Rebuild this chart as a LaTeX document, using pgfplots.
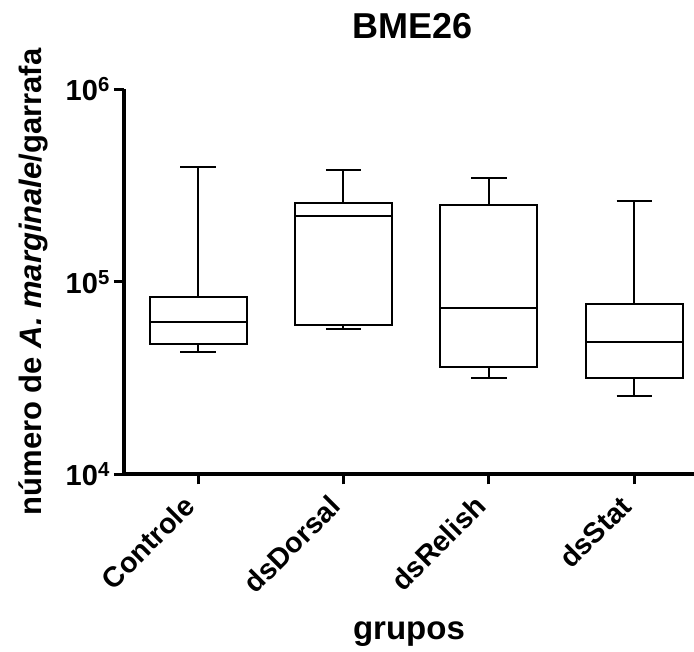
\documentclass[border=0pt]{standalone}
\usepackage{pgfplots}
\pgfplotsset{compat=1.18}
\usepgfplotslibrary{statistics}
\usetikzlibrary{calc}
\usepackage{fontspec}
\setmainfont{Liberation Sans}

\begin{document}
\begin{tikzpicture}
\begin{axis}[
    scale only axis,
    width=570pt, height=385pt,
    ymode=log,
    ymin=1e4, ymax=1e6,
    xmin=0.491, xmax=4.41,
    axis x line*=bottom,
    axis y line*=left,
    axis line style={-, line width=4pt},
    xtick={1,2,3,4},
    xticklabels={Controle,dsDorsal,dsRelish,dsStat},
    ytick={1e4,1e5,1e6},
    yticklabels={10\textsuperscript{4},10\textsuperscript{5},10\textsuperscript{6}},
    minor tick length=0pt,
    minor tick style={draw=none},
    tick align=outside,
    major tick length=10pt,
    major tick style={line width=3pt, black},
    yticklabel style={font=\fontsize{29}{34}\selectfont\bfseries, inner sep=0pt, xshift=-4pt},
    xticklabel style={font=\fontsize{28.5}{34}\selectfont\bfseries, xshift=-16pt, yshift=-9pt, rotate=45, anchor=north east, inner sep=0pt},
    title={BME26},
    title style={font=\fontsize{36}{40}\selectfont\bfseries, at={(axis description cs:0.5,1)}, anchor=base, yshift=44.5pt, xshift=4pt},
    xlabel={grupos},
    xlabel style={font=\fontsize{33}{38}\selectfont\bfseries, at={(axis description cs:0.5,0)}, anchor=base, yshift=-165.5pt},
    ylabel={número de \textit{A. marginale}/garrafa},
    ylabel style={font=\fontsize{31}{36}\selectfont\bfseries, at={(axis description cs:0,0.5)}, anchor=base, yshift=82pt},
    boxplot/draw direction=y,
    clip=false,
]
\addplot[black, line width=2pt, solid, boxplot prepared={
    lower whisker=43300, lower quartile=47600, median=62200,
    upper quartile=83600, upper whisker=397000,
    draw position=1, box extend=0.667, whisker extend=0.243}] coordinates {};
\addplot[black, line width=2pt, solid, boxplot prepared={
    lower whisker=57200, lower quartile=59800, median=219000,
    upper quartile=258000, upper whisker=380000,
    draw position=2, box extend=0.667, whisker extend=0.243}] coordinates {};
\addplot[black, line width=2pt, solid, boxplot prepared={
    lower whisker=31700, lower quartile=36200, median=73500,
    upper quartile=250000, upper whisker=348000,
    draw position=3, box extend=0.667, whisker extend=0.243}] coordinates {};
\addplot[black, line width=2pt, solid, boxplot prepared={
    lower whisker=25600, lower quartile=31600, median=48600,
    upper quartile=77100, upper whisker=262000,
    draw position=4, box extend=0.667, whisker extend=0.243}] coordinates {};
\end{axis}
\pgfresetboundingbox
\path ($(current axis.south west)+(-124pt,-177.5pt)$) rectangle ($(current axis.north east)+(0pt,89.5pt)$);
\end{tikzpicture}
\end{document}
